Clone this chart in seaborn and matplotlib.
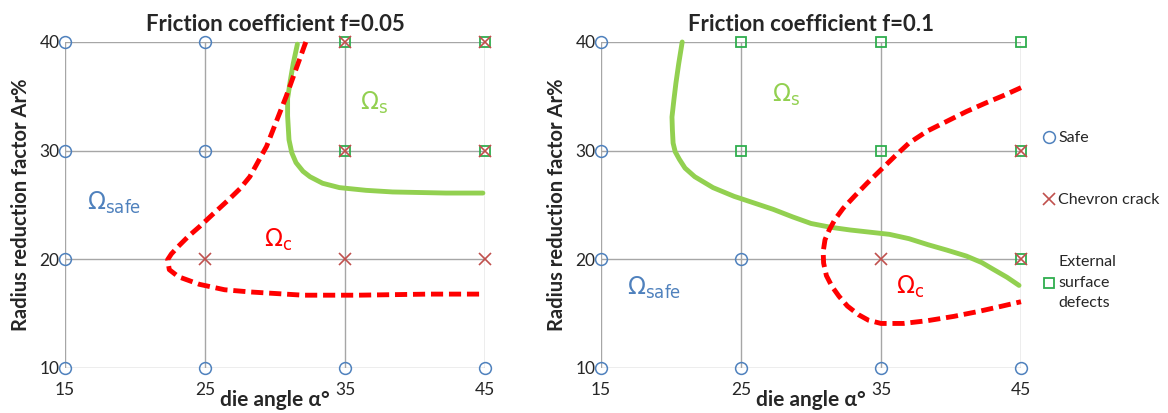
import matplotlib
matplotlib.use('Agg')
import matplotlib.pyplot as plt
import seaborn as sns
from matplotlib.lines import Line2D

# grid of tested points
safe_f005 = [(15, 10), (15, 20), (15, 30), (15, 40), (25, 10), (25, 30), (25, 40), (35, 10), (45, 10)]
chevron_f005 = [(25, 20), (35, 20), (45, 20), (35, 30), (45, 30), (35, 40), (45, 40)]
external_f005 = [(35, 30), (45, 30), (35, 40), (45, 40)]

safe_f01 = [(15, 10), (15, 20), (15, 30), (15, 40), (25, 10), (25, 20), (35, 10), (45, 10)]
chevron_f01 = [(35, 20), (45, 20), (45, 30)]
external_f01 = [(25, 30), (25, 40), (35, 30), (35, 40), (45, 40), (45, 30), (45, 20)]

# boundary curves
crack_f005_x = [32.2, 31.5, 30.8, 30.1, 29.4, 28.8, 28.2, 27.5, 26.7, 25.6, 24.6, 23.8, 23.1, 22.6, 22.33, 22.45,
                23.1, 24.6, 26.4, 28.2, 32.0, 35.9, 41.0, 44.8]
crack_f005_y = [40.0, 37.5, 35.0, 32.7, 30.4, 29.0, 27.6, 26.5, 25.5, 24.2, 23.0, 22.1, 21.2, 20.5, 19.97, 19.05,
                18.4, 17.7, 17.2, 17.0, 16.7, 16.7, 16.8, 16.8]
surf_f005_x = [31.6, 31.3, 31.1, 30.9, 30.9, 31.0, 31.2, 31.5, 32.0, 32.5, 33.4, 34.6, 36.5, 38.4, 42.2, 44.85]
surf_f005_y = [39.8, 38.0, 36.5, 34.8, 33.2, 31.0, 29.8, 28.9, 28.1, 27.6, 27.0, 26.6, 26.35, 26.2, 26.1, 26.1]

crack_f01_x = [45.0, 43.8, 42.5, 41.1, 39.7, 38.3, 37.0, 36.0, 35.0, 34.0, 33.1, 32.3, 31.7, 31.3, 31.0, 30.87,
               30.9, 31.1, 31.5, 32.0, 32.6, 33.4, 34.1, 35.0, 36.6, 38.35, 40.2, 41.95, 43.5, 45.0]
crack_f01_y = [35.8, 35.1, 34.4, 33.6, 32.7, 31.8, 30.7, 29.5, 28.25, 27.0, 25.8, 24.7, 23.65, 22.7, 21.8, 20.7,
               19.66, 18.5, 17.5, 16.6, 15.7, 14.9, 14.4, 14.1, 14.1, 14.36, 14.75, 15.2, 15.65, 16.1]
surf_f01_x = [20.8, 20.55, 20.35, 20.2, 20.07, 20.1, 20.15, 20.3, 20.6, 21.0, 21.7, 23.0, 24.5, 25.9, 27.3, 28.7,
              30.0, 31.4, 32.8, 34.2, 35.6, 37.0, 38.35, 39.7, 41.1, 42.2, 43.06, 44.0, 44.86]
surf_f01_y = [40.0, 38.0, 36.2, 34.6, 33.1, 31.9, 30.7, 29.9, 29.2, 28.4, 27.6, 26.6, 25.8, 25.2, 24.6, 23.9,
              23.3, 22.95, 22.7, 22.5, 22.3, 21.9, 21.35, 20.85, 20.3, 19.7, 19.05, 18.35, 17.6]

angles = [15, 25, 35, 45]
reductions = [10, 20, 30, 40]

sns.set_theme(style='white')
plt.rcParams['font.family'] = ['Lato', 'DejaVu Sans']

blue = '#4f81bd'
red_mk = '#c0504d'
green_mk = '#2fae4e'
red_line = '#ff0000'
green_line = '#92d050'

fig = plt.figure(figsize=(11.68, 4.13), dpi=100)
ax1 = fig.add_axes([65 / 1168, 1 - 368 / 413, 420 / 1168, 326 / 413])
ax2 = fig.add_axes([601 / 1168, 1 - 368 / 413, 420 / 1168, 326 / 413])


def draw_panel(ax, title, safe, chevron, external, cx, cy, sx, sy, labels):
    ax.set_xlim(15, 45)
    ax.set_ylim(10, 40)
    ax.set_xticks(angles)
    ax.set_yticks(reductions)
    ax.grid(True, color='#a6a6a6', linewidth=1)
    for s in ax.spines.values():
        s.set_visible(False)
    ax.tick_params(length=0, labelsize=12.5, pad=10)
    ax.tick_params(axis='y', pad=4)

    sns.lineplot(x=sx, y=sy, sort=False, estimator=None, errorbar=None, color=green_line,
                 linewidth=3.5, ax=ax, clip_on=False)
    sns.lineplot(x=cx, y=cy, sort=False, estimator=None, errorbar=None, color=red_line,
                 linewidth=3.5, ax=ax, linestyle=(0, (2.5, 1.2)), clip_on=False)

    ax.plot([p[0] for p in safe], [p[1] for p in safe], 'o', mfc='none', mec=blue,
            ms=8.5, mew=1.1, clip_on=False, zorder=5)
    ax.plot([p[0] for p in external], [p[1] for p in external], 's', mfc='none', mec=green_mk,
            ms=7.5, mew=1.3, clip_on=False, zorder=5)
    ax.plot([p[0] for p in chevron], [p[1] for p in chevron], 'x', color=red_mk,
            ms=8.5, mew=1.2, clip_on=False, zorder=6)

    ax.set_title(title, fontsize=16, fontweight='bold', pad=8)
    ax.set_xlabel('die angle α°', fontsize=15, fontweight='bold', labelpad=-6)
    ax.set_ylabel('Radius reduction factor Ar%', fontsize=14.5, fontweight='bold', labelpad=6)

    for (x, y, txt, col) in labels:
        ax.text(x, y, txt, color=col, fontsize=17, ha='center', va='center')


draw_panel(ax1, 'Friction coefficient f=0.05', safe_f005, chevron_f005, external_f005,
           crack_f005_x, crack_f005_y, surf_f005_x, surf_f005_y,
           [(18.5, 25.2, r'$\Omega_{\mathrm{safe}}$', blue),
            (37.1, 34.4, r'$\Omega_{\mathrm{s}}$', green_line),
            (30.2, 21.8, r'$\Omega_{\mathrm{c}}$', red_line)])
draw_panel(ax2, 'Friction coefficient f=0.1', safe_f01, chevron_f01, external_f01,
           crack_f01_x, crack_f01_y, surf_f01_x, surf_f01_y,
           [(28.2, 35.15, r'$\Omega_{\mathrm{s}}$', green_line),
            (18.8, 17.4, r'$\Omega_{\mathrm{safe}}$', blue),
            (37.1, 17.5, r'$\Omega_{\mathrm{c}}$', red_line)])

handles = [
    Line2D([], [], marker='o', ls='none', mfc='none', mec=blue, ms=8.5, mew=1.1),
    Line2D([], [], marker='x', ls='none', color=red_mk, ms=8.5, mew=1.2),
    Line2D([], [], marker='s', ls='none', mfc='none', mec=green_mk, ms=7.5, mew=1.3),
]
leg = fig.legend(handles, ['Safe', 'Chevron crack', 'External\nsurface\ndefects'],
                 loc='upper left', bbox_to_anchor=(1044 / 1168, 1 - 131 / 413), frameon=False,
                 fontsize=11.5, handlelength=0.6, handletextpad=0.3, labelspacing=3.0,
                 borderpad=0, borderaxespad=0)
for t in leg.get_texts():
    t.set_linespacing(1.6)

fig.savefig('out.png', dpi=100)
